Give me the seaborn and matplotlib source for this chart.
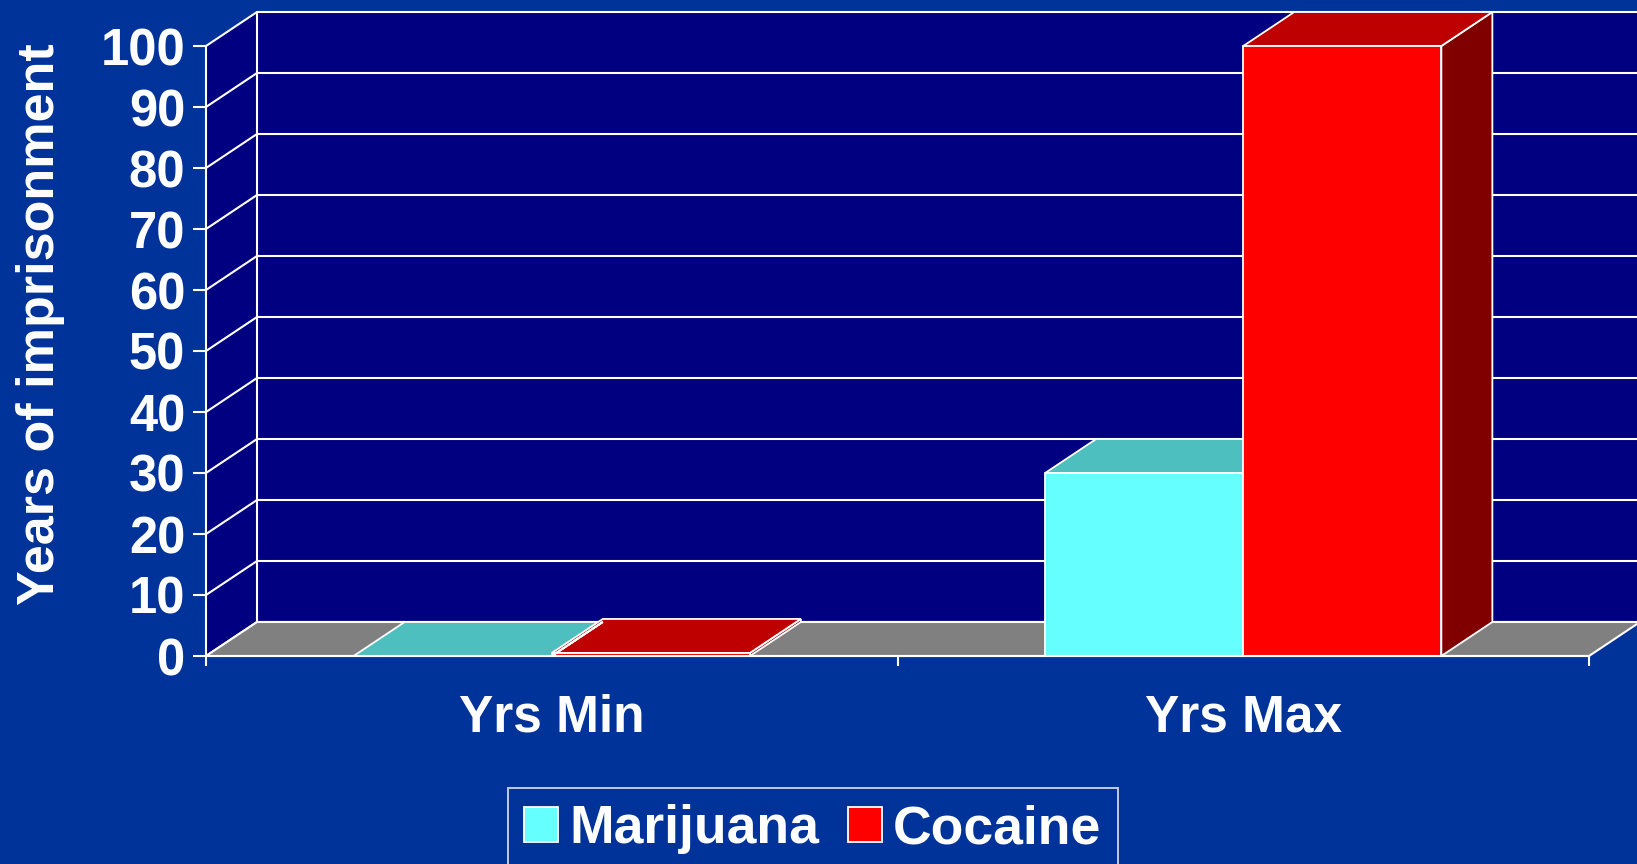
import pandas as pd
import matplotlib.pyplot as plt
import seaborn as sns
from matplotlib.patches import Polygon

# data
periods = ["Yrs Min", "Yrs Max"]
drugs = ["Marijuana", "Cocaine"]
marijuana_years = [0, 30]
cocaine_years = [0.5, 100]
y_ticks = list(range(0, 101, 10))

df = pd.DataFrame({
    "period": periods * 2,
    "drug": [drugs[0]] * 2 + [drugs[1]] * 2,
    "years": marijuana_years + cocaine_years,
})

# colours (front, top, side)
bg = "#003399"
wall = "#000080"
floor = "#808080"
front_col = {"Marijuana": "#66FFFF", "Cocaine": "#FF0000"}
top_col = {"#66FFFF": "#4DBFBF", "#FF0000": "#BF0000"}
side_col = {"#66FFFF": "#338080", "#FF0000": "#800000"}

sns.set_theme(style="white")
plt.rcParams["font.family"] = ["Liberation Sans", "DejaVu Sans"]
plt.rcParams["font.weight"] = "bold"
plt.rcParams["text.color"] = "white"
plt.rcParams["axes.labelcolor"] = "white"

fig = plt.figure(figsize=(16.37, 8.64), dpi=100, facecolor=bg)
ax = fig.add_axes([206 / 1637, 208 / 864, 1383 / 1637, 610 / 864])
ax.set_facecolor("none")

sns.barplot(data=df, x="period", y="years", hue="drug", hue_order=drugs,
            palette=front_col, saturation=1, width=0.573, gap=0,
            errorbar=None, edgecolor="white", linewidth=1.3, ax=ax)
bars = sorted(ax.patches, key=lambda p: p.get_x())

ax.set_xlim(-0.5, 1.5)
ax.set_ylim(0, 100)

# 3d depth in data units (about 51 px right, 34 px up)
dx = 51 / 691.5
dy = 34 / 6.1
x0, x1 = -0.5, 1.5
lw = 1.5

# back wall, left wall, floor
ax.add_patch(Polygon([(x0 + dx, dy), (x1 + dx, dy), (x1 + dx, 100 + dy), (x0 + dx, 100 + dy)],
                     closed=True, facecolor=wall, edgecolor="none", zorder=0.5, clip_on=False))
ax.add_patch(Polygon([(x0, 0), (x0 + dx, dy), (x0 + dx, 100 + dy), (x0, 100)],
                     closed=True, facecolor=wall, edgecolor="none", zorder=0.5, clip_on=False))
for v in y_ticks:
    ax.plot([x0, x0 + dx, x1 + dx], [v, v + dy, v + dy], color="white", lw=lw,
            zorder=0.6, clip_on=False, solid_capstyle="butt")
ax.plot([x0 + dx, x0 + dx], [dy, 100 + dy], color="white", lw=lw, zorder=0.6, clip_on=False)
ax.add_patch(Polygon([(x0, 0), (x1, 0), (x1 + dx, dy), (x0 + dx, dy)],
                     closed=True, facecolor=floor, edgecolor="white", lw=lw,
                     zorder=0.7, clip_on=False))

# top and side faces from the seaborn bars
for i, b in enumerate(bars):
    bx, bw, bh = b.get_x(), b.get_width(), b.get_height()
    fc = "#%02X%02X%02X" % tuple(int(round(c * 255)) for c in b.get_facecolor()[:3])
    z = 2 + i
    ax.add_patch(Polygon([(bx + bw, 0), (bx + bw, bh), (bx + bw + dx, bh + dy), (bx + bw + dx, dy)],
                         closed=True, facecolor=side_col[fc], edgecolor="white", lw=1.3,
                         zorder=z, clip_on=False))
    ax.add_patch(Polygon([(bx, bh), (bx + bw, bh), (bx + bw + dx, bh + dy), (bx + dx, bh + dy)],
                         closed=True, facecolor=top_col[fc], edgecolor="white", lw=1.3,
                         zorder=z, clip_on=False))
    b.set_zorder(z + 0.5)
    b.set_clip_on(False)

# axes styling
for s in ["top", "right"]:
    ax.spines[s].set_visible(False)
for s in ["left", "bottom"]:
    ax.spines[s].set_color("white")
    ax.spines[s].set_linewidth(lw)
    ax.spines[s].set_zorder(10)

ax.set_yticks(y_ticks)
ax.tick_params(axis="y", colors="white", length=9.4, width=lw, pad=5.5, labelsize=36.5, left=True)
ax.set_xticks([0, 1])
ax.set_xticklabels(periods)
ax.set_xticks([-0.5, 0.5, 1.5], minor=True)
ax.tick_params(axis="x", which="major", length=0, pad=27, labelsize=37, colors="white")
ax.tick_params(axis="x", which="minor", length=7.2, width=lw, colors="white", bottom=True)
ax.set_xlabel("")
ax.set_ylabel("Years of imprisonment", fontsize=37.5, fontweight="bold")
ax.yaxis.set_label_coords(-0.102, 0.544)

sns.move_legend(ax, loc="upper left", bbox_to_anchor=(508 / 1637, 1 - 788 / 864),
                bbox_transform=fig.transFigure, ncol=2, title=None, frameon=True,
                fontsize=38.5, handlelength=0.63, handleheight=0.63, handletextpad=0.21,
                columnspacing=0.55, borderpad=0.3, borderaxespad=0)
leg = ax.get_legend()
leg.get_frame().set_facecolor(bg)
leg.get_frame().set_edgecolor("white")
leg.get_frame().set_linewidth(1.3)
leg.get_frame().set_boxstyle("square", pad=0)
for t in leg.get_texts():
    t.set_color("white")
    t.set_fontweight("bold")
for h in leg.legend_handles:
    h.set_edgecolor("white")

fig.savefig("out.png", dpi=100, facecolor=bg)
